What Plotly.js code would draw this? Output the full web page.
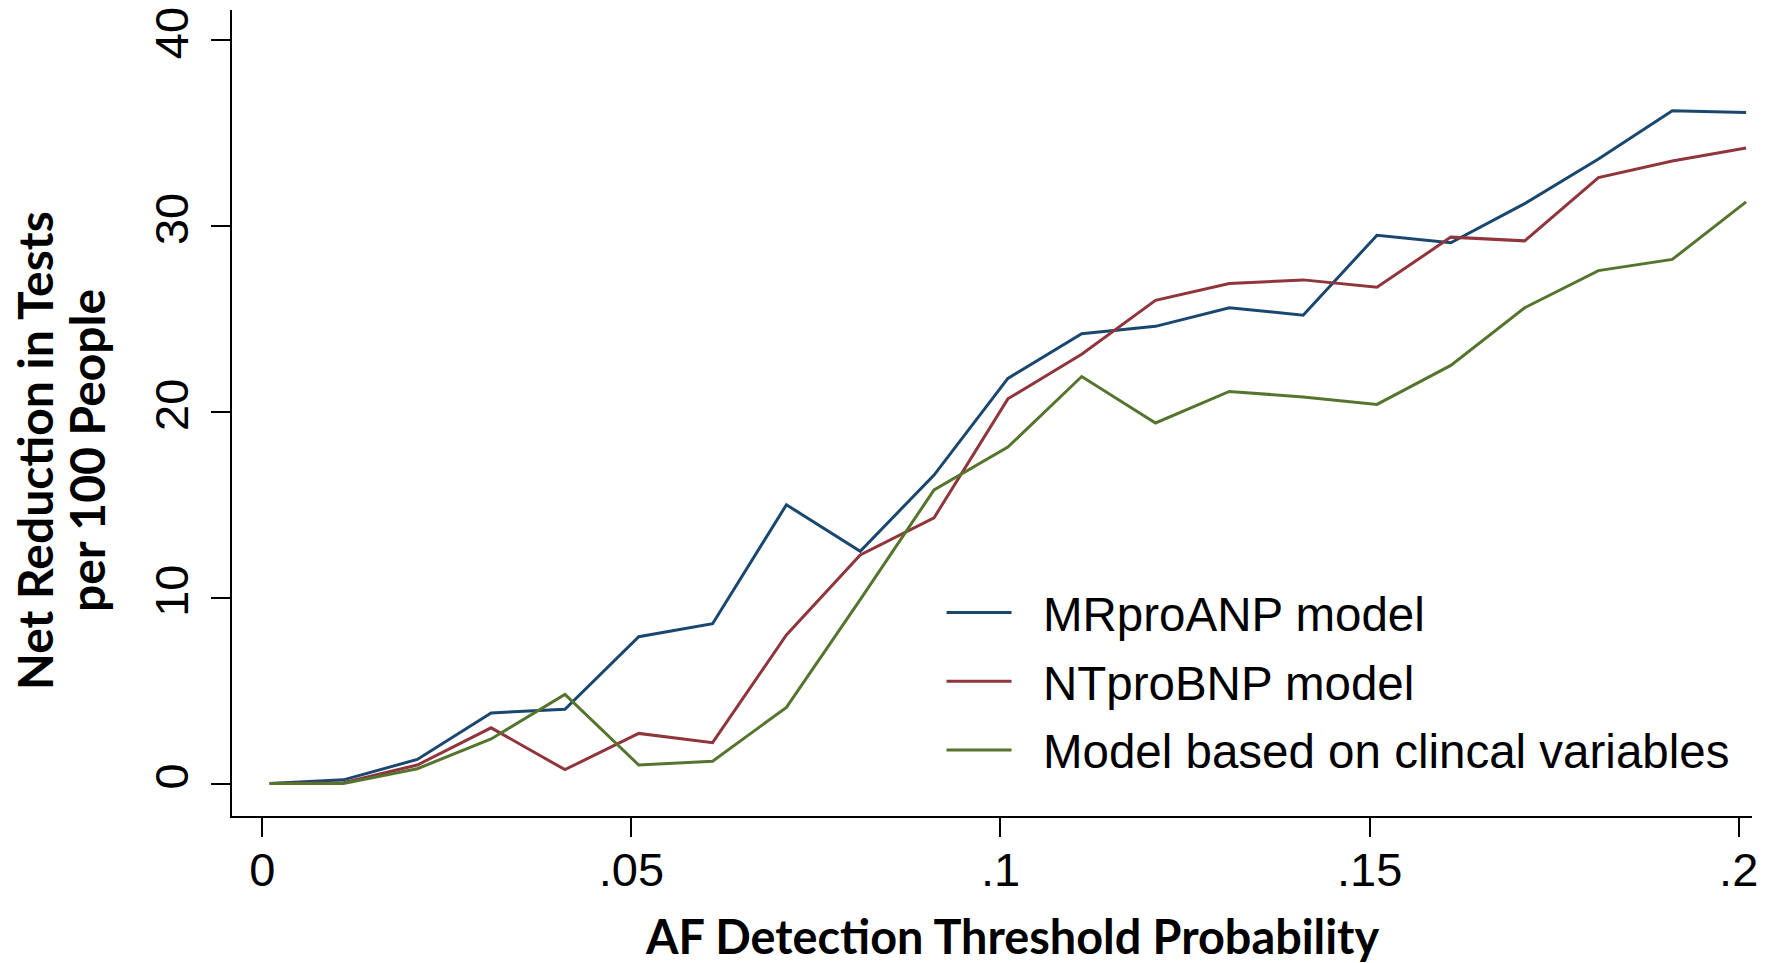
<!DOCTYPE html>
<html>
<head>
<meta charset="utf-8">
<script src="https://cdn.plot.ly/plotly-3.0.1.min.js"></script>
<style>
  html, body { margin: 0; padding: 0; background: #ffffff; }
  #chart { width: 1774px; height: 963px; }
</style>
</head>
<body>
<div id="chart"></div>
<script>
// Threshold probabilities (x)
const thresholds = [0.001, 0.011, 0.021, 0.031, 0.041, 0.051, 0.061, 0.071, 0.081, 0.091,
                    0.101, 0.111, 0.121, 0.131, 0.141, 0.151, 0.161, 0.171, 0.181, 0.191, 0.201];

// Net reduction in tests per 100 people
const mrproanp = [0.0, 0.2, 1.3, 3.8, 4.0, 7.9, 8.6, 15.0, 12.5, 16.6,
                  21.8, 24.2, 24.6, 25.6, 25.2, 29.5, 29.1, 31.2, 33.6, 36.2, 36.1];
const ntprobnp = [0.0, 0.05, 1.0, 3.0, 0.75, 2.7, 2.2, 8.0, 12.3, 14.3,
                  20.7, 23.1, 26.0, 26.9, 27.1, 26.7, 29.4, 29.2, 32.6, 33.5, 34.2];
const clinical = [0.0, 0.0, 0.8, 2.4, 4.8, 1.0, 1.2, 4.1, 9.9, 15.8,
                  18.1, 21.9, 19.4, 21.1, 20.8, 20.4, 22.5, 25.6, 27.6, 28.2, 31.3];

const seriesNames = ["MRproANP model", "NTproBNP model", "Model based on clincal variables"];
const seriesColors = ["#1a476f", "#90353b", "#55752f"];

const xTickVals = [0, 0.05, 0.1, 0.15, 0.2];
const xTickText = ["0", ".05", ".1", ".15", ".2"];
const yTickVals = [0, 10, 20, 30, 40];
const yTickText = ["0", "10", "20", "30", "40"];

const xTitle = "AF Detection Threshold Probability";
const yTitleLine1 = "Net Reduction in Tests";
const yTitleLine2 = "per 100 People";

const seriesValues = [mrproanp, ntprobnp, clinical];
const traces = seriesValues.map((vals, i) => ({
  type: "scatter",
  mode: "lines",
  x: thresholds,
  y: vals,
  name: "\u00a0\u00a0" + seriesNames[i],
  legendgroup: "g" + i,
  line: { color: seriesColors[i], width: 3 },
  hoverinfo: "x+y+name"
}));

const tickFont = { family: "Liberation Sans, Arial, sans-serif", size: 47, color: "#000000" };
const titleFamily = "Lato, Gill Sans, sans-serif";

const layout = {
  width: 1774,
  height: 963,
  paper_bgcolor: "#ffffff",
  plot_bgcolor: "#ffffff",
  margin: { l: 232, r: 22, t: 10, b: 147, pad: 0 },
  showlegend: true,
  legend: {
    x: 0.4668,
    y: 0.299,
    xanchor: "left",
    yanchor: "top",
    bgcolor: "rgba(0,0,0,0)",
    borderwidth: 0,
    itemwidth: 65,
    traceorder: "grouped",
    tracegroupgap: 4,
    font: { family: "Liberation Sans, Arial, sans-serif", size: 47.5, color: "#000000" }
  },
  xaxis: {
    range: [-0.0041, 0.2018],
    showgrid: false,
    zeroline: false,
    showline: true,
    linecolor: "#000000",
    linewidth: 2,
    ticks: "outside",
    ticklen: 19,
    tickwidth: 2,
    tickcolor: "#000000",
    tickvals: xTickVals,
    ticktext: xTickText,
    tickfont: tickFont,
    ticklabelstandoff: -7
  },
  yaxis: {
    range: [-1.744, 41.62],
    showgrid: false,
    zeroline: false,
    showline: true,
    linecolor: "#000000",
    linewidth: 2,
    ticks: "outside",
    ticklen: 19,
    tickwidth: 2,
    tickcolor: "#000000",
    tickvals: yTickVals,
    ticktext: yTickText,
    tickangle: -90,
    tickfont: tickFont,
    ticklabelstandoff: 4
  },
  annotations: [
    {
      text: "<b>" + xTitle + "</b>",
      xref: "paper", yref: "paper",
      x: 0.5132, y: -0.1493,
      xanchor: "center", yanchor: "middle",
      showarrow: false,
      font: { family: titleFamily, size: 46.8, color: "#000000" }
    },
    {
      text: "<b>" + yTitleLine1 + "</b>",
      xref: "paper", yref: "paper",
      x: -0.1303, y: 0.4539,
      xanchor: "center", yanchor: "middle",
      textangle: -90,
      showarrow: false,
      font: { family: titleFamily, size: 48, color: "#000000" }
    },
    {
      text: "<b>" + yTitleLine2 + "</b>",
      xref: "paper", yref: "paper",
      x: -0.0961, y: 0.4539,
      xanchor: "center", yanchor: "middle",
      textangle: -90,
      showarrow: false,
      font: { family: titleFamily, size: 48, color: "#000000" }
    }
  ]
};

Plotly.newPlot("chart", traces, layout, { displayModeBar: false });
</script>
</body>
</html>
